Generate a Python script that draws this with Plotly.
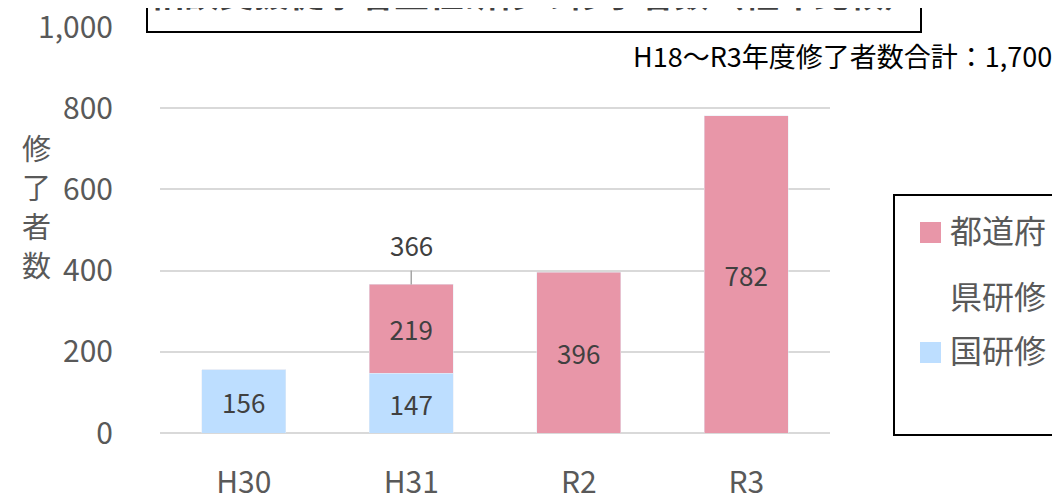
import plotly.graph_objects as go

categories = ["H30", "H31", "R2", "R3"]
kuni = [156, 147, 0, 0]          # 国研修
todofuken = [0, 219, 396, 782]   # 都道府県研修
totals_label = {"H31": 366}
y_ticks = [0, 200, 400, 600, 800, 1000]
y_tick_text = ["0", "200", "400", "600", "800", "1,000"]
y_title_chars = ["修", "了", "者", "数"]
title_text = "相談支援従事者主任研修の修了者数（経年比較）"
note_text = "H18～R3年度修了者数合計：1,700"

PINK = "#E896A8"
BLUE = "#BDDEFF"
FONT = "Noto Sans CJK JP"

# page has an 8px body offset; figure sized to fill the remaining window
OFF = 8
W, H = 1060 - OFF, 497 - OFF
SL, SR, ST, SB = 160, 830, 27, 433   # plot area in screen pixels
L, T = SL - OFF, ST - OFF
R, B = W - (SR - OFF), H - (SB - OFF)
pw, ph = SR - SL, SB - ST

def px(xs):
    return (xs - SL) / pw

def py(ys):
    return (SB - ys) / ph

fig = go.Figure()
fig.add_trace(go.Bar(
    x=categories, y=kuni, name="国研修", marker_color=BLUE,
    text=[str(v) if v else "" for v in kuni], textposition="inside",
    insidetextanchor="middle", textangle=0, constraintext="none",
    textfont=dict(size=26, color="#404040", family=FONT), width=0.5,
    showlegend=False))
fig.add_trace(go.Bar(
    x=categories, y=todofuken, name="都道府県研修", marker_color=PINK,
    text=[str(v) if v else "" for v in todofuken], textposition="inside",
    insidetextanchor="middle", textangle=0, constraintext="none",
    textfont=dict(size=26, color="#404040", family=FONT), width=0.5,
    showlegend=False))

for cat, tot in totals_label.items():
    fig.add_annotation(x=cat, y=tot, text=str(tot), showarrow=True,
                       ax=0, ay=-40, arrowhead=0, arrowwidth=1.5,
                       arrowcolor="#A6A6A6", standoff=0, startstandoff=6,
                       font=dict(size=26, color="#404040", family=FONT))

fig.update_layout(
    width=W, height=H, barmode="stack",
    margin=dict(l=L, r=R, t=T, b=B, autoexpand=False),
    paper_bgcolor="white", plot_bgcolor="white",
    font=dict(family=FONT, color="#595959"),
    xaxis=dict(tickfont=dict(size=30, color="#595959"), showline=False,
               ticks="", ticklabelstandoff=29, automargin=False,
               ticklabeloverflow="allow"),
    yaxis=dict(range=[0, 1000], tickvals=y_ticks, ticktext=y_tick_text,
               tickfont=dict(size=30, color="#595959"), gridcolor="#D9D9D9",
               gridwidth=1.5, zeroline=True, zerolinecolor="#D9D9D9",
               zerolinewidth=1.5, ticks="", ticklabelstandoff=46,
               automargin=False, ticklabeloverflow="allow"),
)

# Title box (partly cut off at the top)
fig.add_shape(type="rect", xref="paper", yref="paper",
              x0=px(147), x1=px(921), y0=py(32), y1=py(-10),
              line=dict(color="black", width=2), fillcolor="white", layer="above")
fig.add_annotation(xref="paper", yref="paper", x=px(534), y=py(-9),
                   text="<b>" + title_text + "</b>", showarrow=False,
                   font=dict(size=35, color="#404040", family=FONT),
                   xanchor="center", yanchor="middle")

# Note at top right
fig.add_annotation(xref="paper", yref="paper", x=px(1054), y=py(55),
                   text=note_text, showarrow=False, xanchor="right",
                   yanchor="middle",
                   font=dict(size=27, color="black", family=FONT))

# Y axis title (vertical characters)
for i, ch in enumerate(y_title_chars):
    fig.add_annotation(xref="paper", yref="paper", x=px(36), y=py(147 + 39 * i),
                       text=ch, showarrow=False,
                       xanchor="center", yanchor="middle",
                       font=dict(size=29, color="#595959", family=FONT))

# Legend box
fig.add_shape(type="rect", xref="paper", yref="paper",
              x0=px(894), x1=px(1075), y0=py(435), y1=py(195),
              line=dict(color="black", width=2), fillcolor="white")
fig.add_shape(type="rect", xref="paper", yref="paper",
              x0=px(920), x1=px(941), y0=py(243), y1=py(222),
              line=dict(width=0), fillcolor=PINK)
fig.add_shape(type="rect", xref="paper", yref="paper",
              x0=px(920), x1=px(941), y0=py(363), y1=py(342),
              line=dict(width=0), fillcolor=BLUE)
fig.add_annotation(xref="paper", yref="paper", x=px(948), y=py(229),
                   text="都道府", showarrow=False, xanchor="left", yanchor="middle",
                   font=dict(size=32, color="#595959", family=FONT))
fig.add_annotation(xref="paper", yref="paper", x=px(948), y=py(295),
                   text="県研修", showarrow=False, xanchor="left", yanchor="middle",
                   font=dict(size=32, color="#595959", family=FONT))
fig.add_annotation(xref="paper", yref="paper", x=px(948), y=py(349),
                   text="国研修", showarrow=False, xanchor="left", yanchor="middle",
                   font=dict(size=32, color="#595959", family=FONT))

fig.write_html("out.html")
